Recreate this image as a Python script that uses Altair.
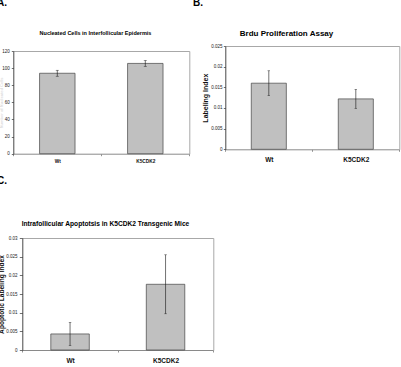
import altair as alt
import pandas as pd

FONT = "Liberation Sans"
W, H = 401, 367

categories = ["Wt", "K5CDK2"]
nucleated_mean = [94.0, 105.5]
nucleated_err = [3.5, 3.5]
brdu_mean = [0.0160, 0.0122]
brdu_err = [0.0030, 0.0023]
apop_mean = [0.0043, 0.0176]
apop_err = [0.0031, 0.0079]

ticks_a = [0, 20, 40, 60, 80, 100, 120]
ticks_b = [0, 0.005, 0.01, 0.015, 0.02, 0.025]
ticks_c = [0, 0.005, 0.01, 0.015, 0.02, 0.025, 0.03]

title_a = "Nucleated Cells in Interfollicular Epidermis"
title_b = "Brdu Proliferation Assay"
title_c = "Intrafollicular Apoptotsis in K5CDK2 Transgenic Mice"
ytitle_a = "Number of Nucleated Cells"
ytitle_b = "Labeling Index"
ytitle_c = "Apoptotic Labeling Index"
letters = ["A.", "B.", "C."]


def text_layer(txt, x, y, fs, align="left"):
    return alt.Chart(pd.DataFrame({"t": [txt]})).mark_text(
        align=align, baseline="alphabetic", font=FONT, fontSize=fs,
        fontWeight="bold", color="#000").encode(
        text="t:N", x=alt.value(x), y=alt.value(y))


def panel(mean, err, ticks, fmt, box, title, tfs, tx, ty,
          ytitle, ytfs, ytcolor, ytx, ytick, ylpad, ylfs, xfs, xlpad, cap,
          letter, lx, ly):
    left, top, right, bottom = box
    df = pd.DataFrame({"cat": categories, "v": mean, "e": err})
    df["lo"] = df["v"] - df["e"]
    df["hi"] = df["v"] + df["e"]
    xs = alt.Scale(domain=categories, range=[left, right], paddingInner=0, paddingOuter=0)
    ys = alt.Scale(domain=[0, ticks[-1]], range=[bottom, top], nice=False, zero=True)

    x_axis = alt.Axis(orient="bottom", offset=bottom - H, title=None, labelAngle=0,
                      labelFont=FONT, labelFontSize=xfs, labelFontWeight="bold",
                      labelColor="#111", labelPadding=xlpad, tickBand="extent",
                      tickSize=2, tickColor="#777", tickWidth=0.8,
                      domainColor="#8a8a8a", domainWidth=1, grid=False)
    y_axis = alt.Axis(orient="left", offset=-left, values=ticks, format=fmt,
                      title=ytitle, titleFont=FONT, titleFontSize=ytfs,
                      titleFontWeight="bold", titleColor=ytcolor,
                      titleX=ytx, titleY=(top + bottom) / 2,
                      labelFont=FONT, labelFontSize=ylfs, labelColor="#222",
                      labelPadding=ylpad, labelOverlap=False, tickSize=ytick,
                      tickColor="#333", tickWidth=0.7, domainColor="#333",
                      domainWidth=0.9, grid=False)
    top_axis = alt.Axis(orient="top", offset=-top, title=None, labels=False,
                        ticks=False, domainColor="#a8a8a8", domainWidth=1, grid=False)
    right_axis = alt.Axis(orient="right", offset=right - W, title=None, labels=False,
                          ticks=False, domainColor="#a8a8a8", domainWidth=1, grid=False)

    bars = alt.Chart(df).mark_bar(width=alt.RelativeBandSize(0.403), color="#c0c0c0",
                                  stroke="#444", strokeWidth=0.7).encode(
        x=alt.X("cat:N", sort=categories, scale=xs, axis=x_axis),
        y=alt.Y("v:Q", scale=ys, axis=y_axis))
    rule = alt.Chart(df).mark_rule(color="#111", strokeWidth=0.6).encode(
        x=alt.X("cat:N", sort=categories, scale=xs, axis=top_axis),
        y=alt.Y("lo:Q", scale=ys, axis=right_axis), y2="hi:Q")
    cap_lo = alt.Chart(df).mark_tick(color="#111", size=cap, thickness=0.6).encode(
        x=alt.X("cat:N", sort=categories, scale=xs, axis=None),
        y=alt.Y("lo:Q", scale=ys, axis=None))
    cap_hi = alt.Chart(df).mark_tick(color="#111", size=cap, thickness=0.6).encode(
        x=alt.X("cat:N", sort=categories, scale=xs, axis=None),
        y=alt.Y("hi:Q", scale=ys, axis=None))
    lab = text_layer(letter, lx, ly, 10)
    ttl = text_layer(title, tx, ty, tfs, align="center")
    return [bars, rule, cap_lo, cap_hi, lab, ttl]


layers = []
layers += panel(nucleated_mean, nucleated_err, ticks_a, "d", (13.3, 51, 189.3, 153.7),
                title_a, 5.5, 95.5, 35,
                ytitle_a, 4, "#dddddd", -9.8, 2, 2, 4.5, 4.75, 2.3, 3,
                letters[0], -3, 5.7)
layers += panel(brdu_mean, brdu_err, ticks_b, ".3~f", (225.3, 46, 399.3, 149.3),
                title_b, 8.0, 286.5, 36,
                ytitle_b, 7, "#111", -16.8, 2, 1.3, 4.5, 6.5, 4.9, 2.5,
                letters[1], 193, 5.7)
layers += panel(apop_mean, apop_err, ticks_c, ".3~f", (22.3, 238, 213.3, 350),
                title_c, 6.64, 105.5, 226.3,
                ytitle_c, 6.6, "#111", -17.8, 3, 2.3, 4.5, 6.5, 5.2, 2.5,
                letters[2], -3, 183.5)

chart = alt.layer(*layers).resolve_scale(
    x="independent", y="independent"
).resolve_axis(
    x="independent", y="independent"
).properties(
    width=W, height=H, padding=0,
    autosize=alt.AutoSizeParams(type="none"),
    background="white",
).configure_view(stroke=None)

chart.save("out.html", embed_options={"renderer": "svg", "actions": False})
